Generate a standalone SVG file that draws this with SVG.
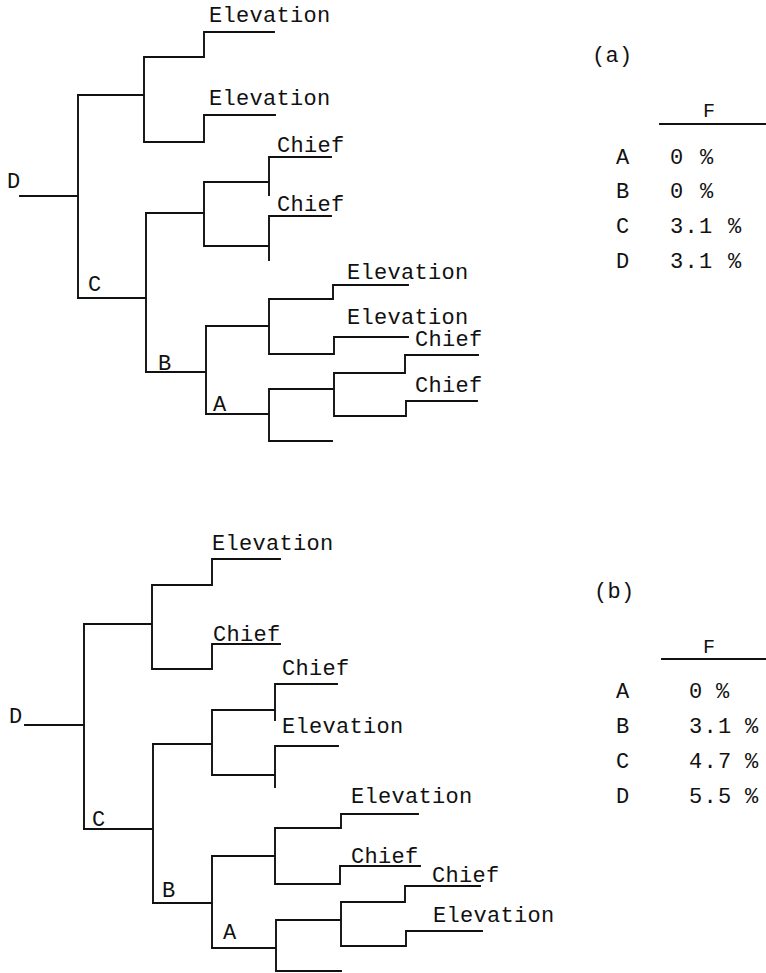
<svg xmlns="http://www.w3.org/2000/svg" width="766" height="973" viewBox="0 0 766 973">
<style>
.ln{fill:none;stroke:#111;stroke-width:1.9;stroke-linecap:square}
text{font-family:"Liberation Mono","DejaVu Sans Mono",monospace;fill:#111}
.lb{font-size:22px;letter-spacing:0.3px}
.tb{font-size:22px;letter-spacing:1.3px}
</style>
<rect width="766" height="973" fill="#fff"/>
<g id="connectors" class="ln">
<!-- tree (a) -->
<path d="M20,196 H78 M78,95 V298"/>
<path d="M78,95 H144 M144,57 V142 M144,57 H204 V32 H274 M144,142 H204 V115 H275"/>
<path d="M78,298 H146 M146,213 V372"/>
<path d="M146,213 H204 M204,182 V246 M204,182 H269 M204,246 H269 M269,157 V195 M269,157 H331 M269,216 V260 M269,216 H331"/>
<path d="M146,372 H206 M206,326 V414"/>
<path d="M206,326 H269 M269,299 V354 M269,299 H333 V285 H408 M269,354 H334 V337 H408"/>
<path d="M206,414 H269 M269,389 V441 M269,389 H334 M334,373 V416 M334,373 H405 V355 H478 M334,416 H406 V401 H477 M269,441 H332"/>
<!-- tree (b) -->
<path d="M25,725 H84 M84,624 V829"/>
<path d="M84,624 H152 M152,585 V669 M152,585 H212 V559 H280 M152,669 H212 V644 H280"/>
<path d="M84,829 H153 M153,744 V903"/>
<path d="M153,744 H212 M212,710 V775 M212,710 H275 M212,775 H275 M275,684 V720 M275,684 H337 M275,746 V787 M275,746 H338"/>
<path d="M153,903 H212 M212,856 V948"/>
<path d="M212,856 H275 M275,828 V884 M275,828 H341 V814 H418 M275,884 H340 V866 H420"/>
<path d="M212,948 H276 M276,920 V971 M276,920 H341 M276,971 H341 M341,902 V946 M341,902 H405 V886 H480 M341,946 H406 V931 H482"/>
<!-- table rules -->
<path d="M660,124 H766 M662,659 H766"/>
</g>
<g id="tree-a" class="lb">
<g id="a-D"><text x="7" y="188">D</text></g>
<g id="a-C"><text x="88" y="291">C</text></g>
<g id="a-B"><text x="158" y="370">B</text></g>
<g id="a-A"><text x="213" y="411">A</text></g>
<g id="a-leaf1"><text x="209" y="22">Elevation</text></g>
<g id="a-leaf2"><text x="209" y="105">Elevation</text></g>
<g id="a-leaf3"><text x="277" y="152">Chief</text></g>
<g id="a-leaf4"><text x="277" y="211">Chief</text></g>
<g id="a-leaf5"><text x="347" y="279">Elevation</text></g>
<g id="a-leaf6"><text x="347" y="324">Elevation</text></g>
<g id="a-leaf7"><text x="415" y="346">Chief</text></g>
<g id="a-leaf8"><text x="415" y="392">Chief</text></g>
</g>
<g id="tree-b" class="lb">
<g id="b-D"><text x="9" y="723">D</text></g>
<g id="b-C"><text x="92" y="826">C</text></g>
<g id="b-B"><text x="162" y="897">B</text></g>
<g id="b-A"><text x="223" y="939">A</text></g>
<g id="b-leaf1"><text x="212" y="550">Elevation</text></g>
<g id="b-leaf2"><text x="213" y="641">Chief</text></g>
<g id="b-leaf3"><text x="282" y="675">Chief</text></g>
<g id="b-leaf4"><text x="282" y="733">Elevation</text></g>
<g id="b-leaf5"><text x="351" y="803">Elevation</text></g>
<g id="b-leaf6"><text x="351" y="863">Chief</text></g>
<g id="b-leaf7"><text x="432" y="882">Chief</text></g>
<g id="b-leaf8"><text x="433" y="922">Elevation</text></g>
</g>
<g id="table-a" class="tb">
<text class="lb" x="592" y="62">(a)</text>
<text x="703" y="117" style="font-size:20px">F</text>
<text x="616" y="164">A</text><text x="670" y="164">0</text><text x="700" y="164">%</text>
<text x="616" y="198">B</text><text x="670" y="198">0</text><text x="700" y="198">%</text>
<text x="616" y="233">C</text><text x="670" y="233">3.1</text><text x="728" y="233">%</text>
<text x="616" y="268">D</text><text x="670" y="268">3.1</text><text x="728" y="268">%</text>
</g>
<g id="table-b" class="tb">
<text class="lb" x="594" y="598">(b)</text>
<text x="703" y="653" style="font-size:20px">F</text>
<text x="616" y="698">A</text><text x="689" y="698">0</text><text x="716" y="698">%</text>
<text x="616" y="733">B</text><text x="689" y="733">3.1</text><text x="745" y="733">%</text>
<text x="616" y="768">C</text><text x="689" y="768">4.7</text><text x="745" y="768">%</text>
<text x="616" y="803">D</text><text x="689" y="803">5.5</text><text x="745" y="803">%</text>
</g>
</svg>
